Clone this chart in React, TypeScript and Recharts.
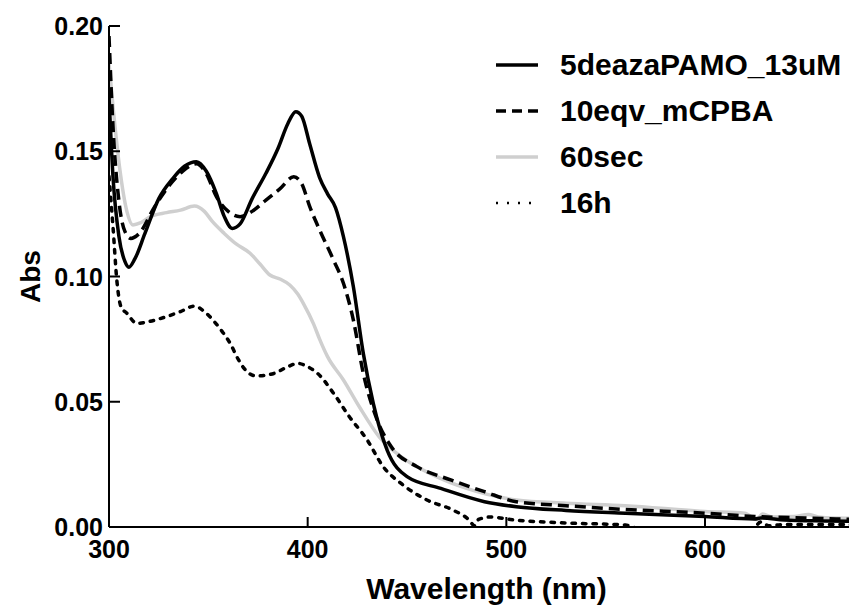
import React from 'react';
import { LineChart, Line, XAxis, YAxis, Legend } from 'recharts';

// ---- data ----
const seriesNames = ['5deazaPAMO_13uM', '10eqv_mCPBA', '60sec', '16h'];
const xTicks = [300, 400, 500, 600];
const yTicks = [0, 0.05, 0.1, 0.15, 0.2];

const wlSolid = [300, 302, 305, 308, 310, 313, 318, 325, 332, 338, 344, 349, 354, 358, 362, 366, 372, 379, 385, 390, 394, 397, 401, 406, 410, 414, 418, 423, 428, 433, 440, 450, 467, 489, 505, 530, 560, 600, 625, 628, 640, 660, 677];
const absSolid = [0.172, 0.14, 0.116, 0.106, 0.1037, 0.107, 0.117, 0.131, 0.139, 0.144, 0.1458, 0.142, 0.1332, 0.124, 0.1192, 0.121, 0.131, 0.1412, 0.151, 0.161, 0.1658, 0.164, 0.153, 0.1395, 0.133, 0.1275, 0.1159, 0.0959, 0.0693, 0.0494, 0.0307, 0.0201, 0.0154, 0.0101, 0.0081, 0.0066, 0.0055, 0.0042, 0.0032, 0.0036, 0.0028, 0.0024, 0.0022];

const wlDashed = [300, 302, 305, 308, 311, 315, 323, 330, 337, 344, 349, 354, 360, 366, 372, 379, 386, 393, 397, 401, 406, 413, 418, 423, 428, 435, 442, 455, 472, 489, 505, 530, 560, 600, 625, 650, 677];
const absDashed = [0.196, 0.16, 0.13, 0.118, 0.1152, 0.117, 0.1279, 0.136, 0.142, 0.145, 0.141, 0.132, 0.126, 0.1239, 0.126, 0.1305, 0.135, 0.1398, 0.137, 0.128, 0.1186, 0.1066, 0.0973, 0.0826, 0.0613, 0.0427, 0.0321, 0.0241, 0.0188, 0.0141, 0.0101, 0.0085, 0.007, 0.0055, 0.0042, 0.0036, 0.003];

const wlGray = [300, 302, 305.5, 309, 312, 316, 321, 329, 336, 343, 348, 352, 358, 364, 371, 376, 381, 386, 391, 395, 398, 403, 406, 410, 418, 426, 436, 447, 463, 480, 505, 530, 560, 600, 620, 626, 629, 634, 645, 652, 657, 665, 677];
const absGray = [0.185, 0.168, 0.1425, 0.126, 0.1206, 0.1215, 0.124, 0.1255, 0.1265, 0.1281, 0.126, 0.122, 0.1172, 0.113, 0.1093, 0.105, 0.1006, 0.099, 0.0966, 0.093, 0.089, 0.081, 0.075, 0.068, 0.0587, 0.048, 0.036, 0.0281, 0.0208, 0.0154, 0.0108, 0.0095, 0.0085, 0.0062, 0.0055, 0.003, 0.0052, 0.004, 0.0042, 0.005, 0.004, 0.0036, 0.0035];

const wlDotted = [300, 302, 304, 306, 309, 314, 320, 329, 336, 343, 348, 353, 357, 361, 365, 368, 374, 383, 390, 395, 400, 405, 413, 421, 430, 438, 447, 460, 473, 481, 484, 486, 492, 502, 530, 560, 568, 600, 624, 628, 632, 640, 651, 668, 677];
const absDotted = [0.14, 0.12, 0.098, 0.088, 0.0853, 0.0813, 0.082, 0.084, 0.086, 0.0882, 0.086, 0.082, 0.078, 0.0733, 0.067, 0.0633, 0.0603, 0.0613, 0.064, 0.0653, 0.064, 0.0613, 0.0534, 0.044, 0.0347, 0.0241, 0.0174, 0.0108, 0.0068, 0.003, 0.0005, 0.003, 0.004, 0.003, 0.0016, 0.0008, -0.001, -0.002, -0.001, 0.002, 0.0005, 0.001, 0.001, 0.001, 0.0008];

const toPts = (wl: number[], ab: number[]) => wl.map((w, i) => ({ wl: w, abs: ab[i] }));

const FONT = '"Liberation Sans", Arial, Helvetica, sans-serif';

const styles = [
  { color: '#000000', dash: undefined as string | undefined, width: 3.5, cap: 'butt', legDash: undefined as string | undefined, legWidth: 3.5 },
  { color: '#000000', dash: '11 6', width: 3.5, cap: 'butt', legDash: '10 6', legWidth: 3.5 },
  { color: '#cfcfcf', dash: undefined, width: 3.5, cap: 'butt', legDash: undefined, legWidth: 3.5 },
  { color: '#000000', dash: '3.5 7', width: 3.5, cap: 'round', legDash: '2 9', legWidth: 2.5 },
];

const BottomTick = (props: any) => {
  const { x, y, payload } = props;
  return (
    <g>
      <line x1={x} x2={x} y1={y} y2={y - 10} stroke="#000" strokeWidth={2} />
      <text x={x} y={y + 31} textAnchor="middle" fill="#000" style={{ fontFamily: FONT, fontWeight: 'bold', fontSize: 25 }}>
        {payload.value}
      </text>
    </g>
  );
};

const LeftTick = (props: any) => {
  const { x, y, payload } = props;
  return (
    <g>
      <line x1={x} x2={x + 11} y1={y} y2={y} stroke="#000" strokeWidth={2} />
      <text x={x - 6} y={y + 9} textAnchor="end" fill="#000" style={{ fontFamily: FONT, fontWeight: 'bold', fontSize: 25 }}>
        {Number(payload.value).toFixed(2)}
      </text>
    </g>
  );
};

const TopTick = (props: any) => {
  const { x, y } = props;
  return <line x1={x} x2={x} y1={y} y2={y + 10} stroke="#000" strokeWidth={2} />;
};

const RightTick = (props: any) => {
  const { x, y } = props;
  return <line x1={x} x2={x - 10} y1={y} y2={y} stroke="#000" strokeWidth={2} />;
};

const XTitle = (props: any) => {
  const vb = props.viewBox || { x: 101, y: 519, width: 749, height: 80 };
  return (
    <text x={vb.x + vb.width / 2 + 3} y={vb.y + 72} textAnchor="middle" fill="#000" style={{ fontFamily: FONT, fontWeight: 'bold', fontSize: 30 }}>
      Wavelength (nm)
    </text>
  );
};

const YTitle = (props: any) => {
  const vb = props.viewBox || { x: 0, y: 18, width: 101, height: 501 };
  const cx = 22;
  const cy = vb.y + vb.height / 2;
  return (
    <text x={cx} y={cy} transform={`rotate(-90 ${cx} ${cy})`} textAnchor="middle" dominantBaseline="central" fill="#000" style={{ fontFamily: FONT, fontWeight: 'bold', fontSize: 28 }}>
      Abs
    </text>
  );
};

const LegendContent = () => (
  <div style={{ fontFamily: FONT, fontWeight: 'bold', fontSize: 30, color: '#000' }}>
    {seriesNames.map((n, i) => (
      <div key={n} style={{ display: 'flex', alignItems: 'center', height: 46, whiteSpace: 'nowrap' }}>
        <svg width={42} height={12} style={{ display: 'block' }}>
          <line x1={0} x2={42} y1={6} y2={6} stroke={styles[i].color} strokeWidth={styles[i].legWidth} strokeDasharray={styles[i].legDash} />
        </svg>
        <span style={{ marginLeft: 22, lineHeight: '46px' }}>{n}</span>
      </div>
    ))}
  </div>
);

const series = [
  toPts(wlSolid, absSolid),
  toPts(wlDashed, absDashed),
  toPts(wlGray, absGray),
  toPts(wlDotted, absDotted),
];
const drawOrder = [2, 3, 1, 0];

export default function App() {
  return (
    <div style={{ width: 849, height: 599, overflow: 'hidden', position: 'relative', background: '#fff' }}>
      <LineChart width={870} height={599} margin={{ top: 18, right: 20, bottom: 0, left: 0 }}>
        <XAxis
          xAxisId="b"
          dataKey="wl"
          type="number"
          domain={[300, 677]}
          allowDataOverflow
          ticks={xTicks}
          height={80}
          orientation="bottom"
          tickSize={0}
          tickMargin={0}
          tickLine={false}
          axisLine={{ stroke: '#000', strokeWidth: 2 }}
          tick={<BottomTick />}
          interval={0}
          label={<XTitle />}
        />
        <XAxis
          xAxisId="t"
          dataKey="wl"
          type="number"
          domain={[300, 677]}
          allowDataOverflow
          ticks={xTicks}
          height={0}
          orientation="top"
          tickSize={0}
          tickMargin={0}
          tickLine={false}
          axisLine={{ stroke: '#000', strokeWidth: 2 }}
          tick={<TopTick />}
          interval={0}
        />
        <YAxis
          yAxisId="l"
          type="number"
          domain={[0, 0.2]}
          allowDataOverflow
          ticks={yTicks}
          width={101}
          orientation="left"
          tickSize={0}
          tickMargin={0}
          tickLine={false}
          axisLine={{ stroke: '#000', strokeWidth: 2 }}
          tick={<LeftTick />}
          interval={0}
          label={<YTitle />}
        />
        <YAxis
          yAxisId="r"
          type="number"
          domain={[0, 0.2]}
          allowDataOverflow
          ticks={yTicks}
          width={0}
          orientation="right"
          tickSize={0}
          tickMargin={0}
          tickLine={false}
          axisLine={{ stroke: '#000', strokeWidth: 2 }}
          tick={<RightTick />}
          interval={0}
        />
        {drawOrder.map((i) => (
          <Line
            key={seriesNames[i]}
            xAxisId="b"
            yAxisId="l"
            data={series[i]}
            dataKey="abs"
            name={seriesNames[i]}
            type="monotone"
            stroke={styles[i].color}
            strokeWidth={styles[i].width}
            strokeDasharray={styles[i].dash}
            strokeLinecap={styles[i].cap as any}
            dot={false}
            activeDot={false}
            isAnimationActive={false}
          />
        ))}
        <Legend
          layout="vertical"
          align="center"
          verticalAlign="middle"
          content={<LegendContent />}
          wrapperStyle={{ position: 'absolute', left: 488, top: 34, width: 'auto', height: 'auto' }}
        />
      </LineChart>
    </div>
  );
}
